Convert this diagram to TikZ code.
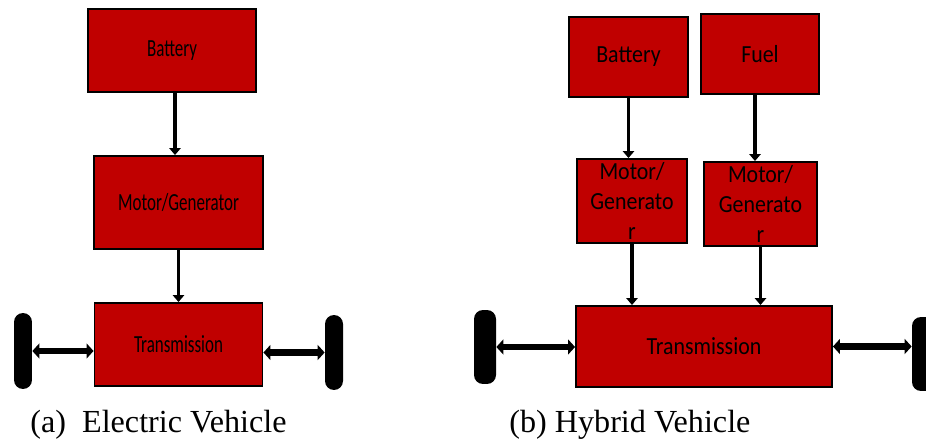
\documentclass[tikz,border=0pt]{standalone}
\usepackage{fontspec}
\setmainfont{Liberation Serif}
\newfontfamily\boxfont[FakeStretch=0.89]{Carlito}
\newfontfamily\boxfontnarrow[FakeStretch=0.69]{Carlito}
\usetikzlibrary{arrows.meta}
\definecolor{boxred}{RGB}{192,0,0}

\begin{document}
\begin{tikzpicture}[x=0.02cm, y=-0.02cm,
    block/.style={draw=black, line width=1.1pt, fill=boxred, inner sep=0pt, align=center},
    wheel/.style={fill=black, rounded corners=0.18cm, inner sep=0pt},
    feed/.style={-{Triangle[width=6.5pt,length=4pt]}, line width=2pt},
    axle/.style={{Triangle[width=8.5pt,length=4pt]}-{Triangle[width=8.5pt,length=4pt]}, line width=3.6pt}]
  \useasboundingbox (0,0) rectangle (926,445);
  \clip (0,0) rectangle (926,445);

  % (a) electric vehicle
  \node[block, minimum width=3.36cm, minimum height=1.66cm, font=\boxfontnarrow\fontsize{14}{16}\selectfont] (batA) at (172,50.5) {Battery};
  \node[block, minimum width=3.38cm, minimum height=1.86cm, font=\boxfontnarrow\fontsize{14}{16}\selectfont] (mgA) at (178.5,202.5) {Motor/Generator};
  \node[block, minimum width=3.36cm, minimum height=1.66cm, font=\boxfontnarrow\fontsize{14}{16}\selectfont] (trA) at (178.5,344.5) {Transmission};
  \node[wheel, minimum width=0.36cm, minimum height=1.52cm] (wlA) at (23,351) {};
  \node[wheel, minimum width=0.36cm, minimum height=1.50cm] (wrA) at (334,352.5) {};

  \draw[feed] ([xshift=0.06cm]batA.south) -- ([xshift=0.06cm]batA.south |- mgA.north);
  \draw[feed] (mgA.south) -- (mgA.south |- trA.north);
  \draw[axle] (wlA.east) -- (wlA.east -| trA.west);
  \draw[axle] (trA.east |- wrA.west) -- (wrA.west);

  % (b) hybrid vehicle
  \node[block, minimum width=2.38cm, minimum height=1.60cm, font=\boxfont\fontsize{14}{17}\selectfont] (batB) at (628.5,57) {Battery};
  \node[block, minimum width=2.36cm, minimum height=1.60cm, font=\boxfont\fontsize{14}{17}\selectfont] (fuelB) at (760,54) {Fuel};
  \node[block, minimum width=2.20cm, minimum height=1.68cm, font=\boxfont\fontsize{14}{17}\selectfont] (mgB1) at (632,201) {Motor/\\Generato\\r};
  \node[block, minimum width=2.26cm, minimum height=1.68cm, font=\boxfont\fontsize{14}{17}\selectfont] (mgB2) at (760.5,204) {Motor/\\Generato\\r};
  \node[block, minimum width=5.12cm, minimum height=1.62cm, font=\boxfont\fontsize{14}{17}\selectfont] (trB) at (704,346.5) {Transmission};
  \node[wheel, minimum width=0.44cm, minimum height=1.48cm] (wlB) at (485,347) {};
  \node[wheel, minimum width=0.48cm, minimum height=1.48cm] (wrB) at (924,354) {};

  \draw[feed] (batB.south) -- (batB.south |- mgB1.north);
  \draw[feed] ([xshift=-0.1cm]fuelB.south) -- ([xshift=-0.1cm]fuelB.south |- mgB2.north);
  \draw[feed] (mgB1.south) -- (mgB1.south |- trB.north);
  \draw[feed] (mgB2.south) -- (mgB2.south |- trB.north);
  \draw[axle] (wlB.east) -- (wlB.east -| trB.west);
  \draw[axle] (trB.east) -- (trB.east -| wrB.west);

  % captions
  \node[anchor=base west, inner sep=0pt, font=\fontsize{18.3}{20}\selectfont] (capA) at (30,433) {(a)\ \ Electric Vehicle};
  \node[anchor=base west, inner sep=0pt, font=\fontsize{18.3}{20}\selectfont] (capB) at (509,433) {(b) Hybrid Vehicle};
\end{tikzpicture}
\end{document}
